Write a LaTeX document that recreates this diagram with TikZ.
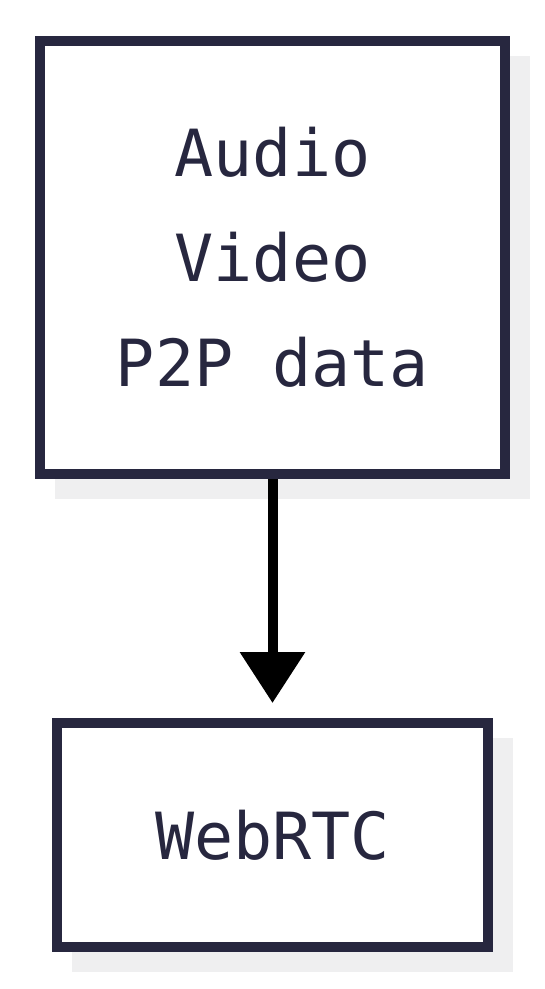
\documentclass[tikz,border=0pt]{standalone}
\usepackage{fontspec}
\setmonofont{DejaVu Sans Mono}
\usetikzlibrary{arrows.meta,shadows}
\definecolor{boxnavy}{HTML}{27273F}
\definecolor{shadegray}{HTML}{EFEFF0}

\begin{document}
\begin{tikzpicture}[x=1pt,y=-1pt]
   \tikzset{box/.style 2 args={draw=boxnavy, line width=10pt, fill=white, minimum width=#1, minimum height=#2, align=center, text=boxnavy, font=\ttfamily\fontsize{65}{105}\selectfont, drop shadow={shadow xshift=20pt, shadow yshift=-20pt, opacity=1, fill=shadegray, draw=shadegray, line width=10pt}}};

\useasboundingbox (0,0) rectangle (545,989);

\node[box={465pt}{433pt}] (media) at (272.5,257.5) {Audio\\Video\\P2P data};
\node[box={431pt}{224pt}] (webrtc) at (272.5,835) {WebRTC};

%arrow------------------
\draw[line width=10pt, shorten >=15pt, -{Triangle[width=63pt,length=51pt]}] (media.south) -- (webrtc.north);

\end{tikzpicture}
\end{document}
